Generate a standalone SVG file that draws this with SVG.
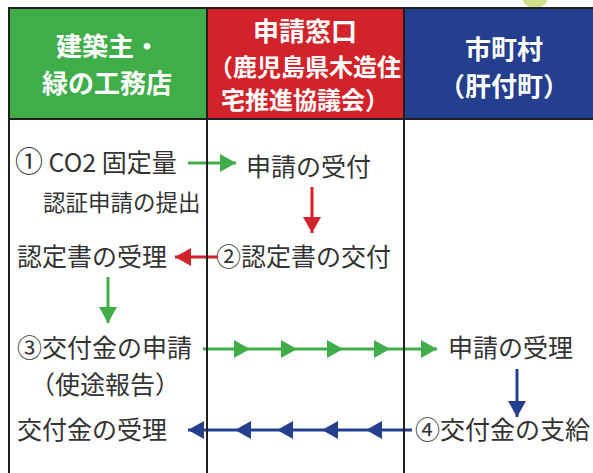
<svg xmlns="http://www.w3.org/2000/svg" width="593" height="473" viewBox="0 0 593 473">
  <style>
    .hd { font-family: "Noto Sans CJK JP", "Noto Sans", sans-serif; font-weight: bold; font-size: 24px; fill: #ffffff; text-anchor: middle; }
    .hl { font-size: 26px; }
    .bd { font-family: "Noto Sans CJK JP", "Noto Sans", sans-serif; font-size: 25px; fill: #333333; }
    .grid { stroke: #231f20; stroke-width: 2; fill: none; }
    .cg { stroke: #3fae49; stroke-width: 3; fill: none; }
    .cr { stroke: #d2232a; stroke-width: 3; fill: none; }
    .cb { stroke: #253f8f; stroke-width: 3; fill: none; }
  </style>
  <defs>
    <marker id="ag" markerUnits="userSpaceOnUse" markerWidth="16" markerHeight="18" refX="16" refY="9" orient="auto">
      <path d="M0,0 L16,9 L0,18 z" fill="#3fae49"/>
    </marker>
    <marker id="ar" markerUnits="userSpaceOnUse" markerWidth="16" markerHeight="18" refX="16" refY="9" orient="auto">
      <path d="M0,0 L16,9 L0,18 z" fill="#d2232a"/>
    </marker>
    <marker id="ab" markerUnits="userSpaceOnUse" markerWidth="16" markerHeight="18" refX="16" refY="9" orient="auto">
      <path d="M0,0 L16,9 L0,18 z" fill="#253f8f"/>
    </marker>
  </defs>
  <rect width="593" height="473" fill="#ffffff"/>
  <ellipse cx="535" cy="-3" rx="13" ry="11" fill="#cfe08c"/>

  <g id="col-builder">
    <rect x="9" y="8" width="198" height="111" fill="#3fae49"/>
    <text class="hd hl" x="108" y="56">建築主・</text>
    <text class="hd hl" x="107" y="93">緑の工務店</text>
  </g>
  <g id="col-window">
    <rect x="207" y="8" width="197" height="111" fill="#d2232a"/>
    <text class="hd" x="305" y="41" style="font-size:26px">申請窓口</text>
    <text class="hd" x="305" y="76">（鹿児島県木造住</text>
    <text class="hd" x="305" y="109">宅推進協議会）</text>
  </g>
  <g id="col-city">
    <rect x="404" y="8" width="189" height="111" fill="#253f8f"/>
    <text class="hd hl" x="504" y="59">市町村</text>
    <text class="hd hl" x="504" y="96">（肝付町）</text>
  </g>

  <g id="n1">
    <text class="bd" x="15" y="172"><tspan style="font-size:28px">①</tspan> CO2 固定量</text>
    <text class="bd" x="43" y="211" style="font-size:22.5px">認証申請の提出</text>
  </g>
  <g id="n2"><text class="bd" x="246" y="176">申請の受付</text></g>
  <g id="n3"><text class="bd" x="216" y="266">②認定書の交付</text></g>
  <g id="n4"><text class="bd" x="17" y="266">認定書の受理</text></g>
  <g id="n5">
    <text class="bd" x="17" y="357">③交付金の申請</text>
    <text class="bd" x="30" y="394">（使途報告）</text>
  </g>
  <g id="n6"><text class="bd" x="448" y="357">申請の受理</text></g>
  <g id="n7"><text class="bd" x="415" y="439">④交付金の支給</text></g>
  <g id="n8"><text class="bd" x="17" y="439">交付金の受理</text></g>

  <g id="connectors">
    <line class="cg" x1="188" y1="163" x2="236" y2="163" marker-end="url(#ag)"/>
    <line class="cr" x1="312" y1="187" x2="312" y2="233" marker-end="url(#ar)"/>
    <line class="cr" x1="218" y1="257" x2="175" y2="257" marker-end="url(#ar)"/>
    <line class="cg" x1="108" y1="277" x2="108" y2="323" marker-end="url(#ag)"/>
    <polyline class="cg" points="203,349 250,349 297,349 343,349 390,349 437,349" marker-mid="url(#ag)" marker-end="url(#ag)"/>
    <line class="cb" x1="517" y1="369" x2="517" y2="417" marker-end="url(#ab)"/>
    <polyline class="cb" points="412,430 366,430 322,430 277,430 235,430 188,430" marker-mid="url(#ab)" marker-end="url(#ab)"/>
  </g>

  <g id="grid">
    <line class="grid" x1="8" y1="8" x2="593" y2="8"/>
    <line class="grid" x1="8" y1="119" x2="593" y2="119"/>
    <line class="grid" x1="9" y1="7" x2="9" y2="473"/>
    <line class="grid" x1="207" y1="8" x2="207" y2="473"/>
    <line class="grid" x1="404" y1="8" x2="404" y2="473"/>
  </g>
</svg>
